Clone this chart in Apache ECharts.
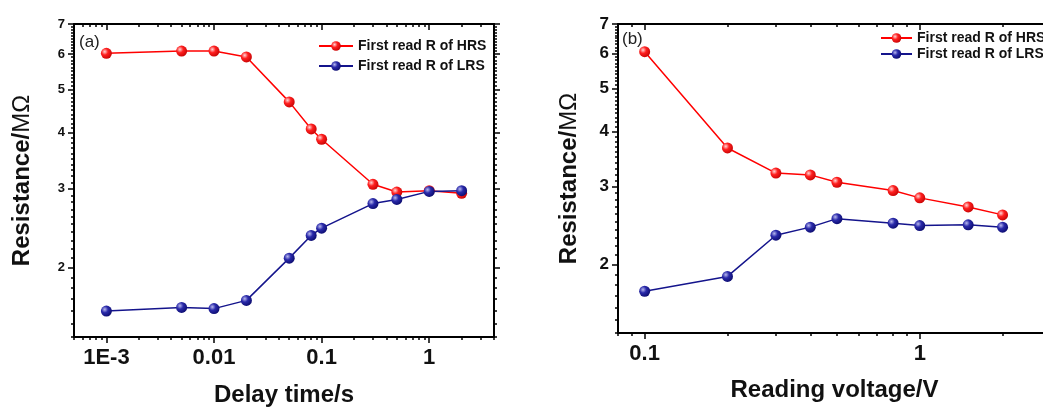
<!DOCTYPE html>
<html>
<head>
<meta charset="utf-8">
<script src="https://cdn.jsdelivr.net/npm/echarts@6/dist/echarts.min.js"></script>
<style>
    html, body { margin: 0; padding: 0; background: #fff; }
    #chart { width: 1043px; height: 407px; }
</style>
</head>
<body>
<div id="chart"></div>
<script>
// (a) first read resistance vs delay time
var delayTime = [0.001, 0.005, 0.01, 0.02, 0.05, 0.08, 0.1, 0.3, 0.5, 1, 2];
var delayHRS  = [6.02, 6.09, 6.09, 5.91, 4.69, 4.08, 3.87, 3.07, 2.95, 2.97, 2.93];
var delayLRS  = [1.60, 1.63, 1.62, 1.69, 2.10, 2.36, 2.45, 2.78, 2.84, 2.96, 2.97];

// (b) first read resistance vs reading voltage
var readVolt = [0.1, 0.2, 0.3, 0.4, 0.5, 0.8, 1, 1.5, 2];
var voltHRS  = [6.06, 3.67, 3.22, 3.19, 3.07, 2.94, 2.83, 2.70, 2.59];
var voltLRS  = [1.74, 1.88, 2.33, 2.43, 2.54, 2.48, 2.45, 2.46, 2.43];

// tick labels
var yTicks = [2, 3, 4, 5, 6, 7];
var delayTicks = [0.001, 0.01, 0.1, 1];
var delayTickLabels = ['1E-3', '0.01', '0.1', '1'];
var voltTicks = [0.1, 1];
var voltTickLabels = ['0.1', '1'];

var names = ['First read R of HRS', 'First read R of LRS'];
var FONT = '"Liberation Sans", Arial, sans-serif';

// minor tick positions (0.1 steps on y, 2..9 per decade on x)
var yMinor = [];
for (var k = 14; k < 70; k++) {
    if (k % 10 !== 0) yMinor.push(k / 10);
}
function decadeMinor(lo, hi) {
    var out = [];
    for (var d = -4; d <= 1; d++) {
        for (var m = 2; m <= 9; m++) {
            var v = parseFloat((m * Math.pow(10, d)).toPrecision(3));
            if (v >= lo && v <= hi) out.push(v);
        }
    }
    return out;
}

// one log axis, only ticks (optionally line / labels / name)
function logAxis(grid, pos, min, max, ticks, len, inside, opt) {
    opt = opt || {};
    return {
        type: 'log', gridIndex: grid, position: pos, min: min, max: max,
        axisLine: { show: !!opt.line, onZero: false, lineStyle: { color: '#000', width: 2 } },
        axisTick: { show: true, customValues: ticks, length: len, inside: inside,
                    lineStyle: { color: '#000', width: 1.5 } },
        axisLabel: opt.label || { show: false },
        minorTick: { show: false },
        splitLine: { show: false },
        name: opt.name || '',
        nameLocation: 'middle',
        nameGap: opt.nameGap || 0,
        nameTextStyle: opt.nameStyle || {}
    };
}

function xLabel(ticks, labels) {
    return {
        show: true, customValues: ticks, margin: 10,
        fontSize: 22, fontWeight: 'bold', fontFamily: FONT, color: '#111',
        formatter: function (v) {
            for (var i = 0; i < ticks.length; i++) {
                if (Math.abs(ticks[i] - v) < ticks[i] * 1e-6) return labels[i];
            }
            return '';
        }
    };
}
function yLabel(size) {
    return { show: true, customValues: yTicks, margin: 9,
             fontSize: size, fontWeight: 'bold', fontFamily: FONT, color: '#111' };
}
var xNameStyle = { fontSize: 24, fontWeight: 'bold', fontFamily: FONT, color: '#111' };
var yNameStyle = {
    color: '#111',
    rich: {
        b: { fontSize: 24, fontWeight: 'bold', fontFamily: FONT, color: '#111' },
        n: { fontSize: 24, fontWeight: 'normal', fontFamily: FONT, color: '#111' }
    }
};
var legendText = { fontSize: 14, fontWeight: 'bold', fontFamily: FONT, color: '#111' };

function ball(c0, c1, c2) {
    return {
        type: 'radial', x: 0.35, y: 0.35, r: 0.75,
        colorStops: [{ offset: 0, color: c0 }, { offset: 0.4, color: c1 }, { offset: 1, color: c2 }]
    };
}
var redBall = ball('#ffd6d6', '#ff2020', '#c00000');
var blueBall = ball('#b8b8ee', '#2a2aaa', '#080868');

function pairs(xs, ys) {
    return xs.map(function (x, i) { return [x, ys[i]]; });
}
function lineSeries(name, xi, data, lineColor, fill) {
    return {
        name: name, type: 'line', xAxisIndex: xi, yAxisIndex: xi, data: data,
        symbol: 'circle', symbolSize: 11,
        lineStyle: { color: lineColor, width: 1.5 },
        itemStyle: { color: fill, borderWidth: 0 },
        emphasis: { disabled: true }
    };
}

var yMin = 1.4, yMax = 7;
var dMin = 0.0005, dMax = 4;
var vMin = 0.08, vMax = 3;

var option = {
    animation: false,
    backgroundColor: '#fff',
    grid: [
        { left: 74, top: 24, width: 420, height: 313, outerBoundsMode: 'none', containLabel: false },
        { left: 618, top: 24, width: 433, height: 309, outerBoundsMode: 'none', containLabel: false }
    ],
    xAxis: [
        logAxis(0, 'bottom', dMin, dMax, delayTicks, 6, false,
            { line: true, label: xLabel(delayTicks, delayTickLabels),
              name: 'Delay time/s', nameGap: 46, nameStyle: xNameStyle }),
        logAxis(0, 'bottom', dMin, dMax, decadeMinor(dMin, dMax), 3, false),
        logAxis(0, 'top', dMin, dMax, delayTicks, 6, true, { line: true }),
        logAxis(0, 'top', dMin, dMax, decadeMinor(dMin, dMax), 3, true),

        logAxis(1, 'bottom', vMin, vMax, voltTicks, 6, false,
            { line: true, label: xLabel(voltTicks, voltTickLabels),
              name: 'Reading voltage/V', nameGap: 45, nameStyle: xNameStyle }),
        logAxis(1, 'bottom', vMin, vMax, decadeMinor(vMin, vMax), 3, false),
        logAxis(1, 'top', vMin, vMax, voltTicks, 6, true, { line: true }),
        logAxis(1, 'top', vMin, vMax, decadeMinor(vMin, vMax), 3, true)
    ],
    yAxis: [
        logAxis(0, 'left', yMin, yMax, yTicks, 6, false,
            { line: true, label: yLabel(13),
              name: '{b|Resistance/}{n|MΩ}', nameGap: 40, nameStyle: yNameStyle }),
        logAxis(0, 'left', yMin, yMax, yMinor, 3, false),
        logAxis(0, 'right', yMin, yMax, yTicks, 6, false, { line: true }),
        logAxis(0, 'right', yMin, yMax, yMinor, 3, false),

        logAxis(1, 'left', yMin, yMax, yTicks, 6, false,
            { line: true, label: yLabel(17),
              name: '{b|Resistance/}{n|MΩ}', nameGap: 37, nameStyle: yNameStyle }),
        logAxis(1, 'left', yMin, yMax, yMinor, 3, false),
        logAxis(1, 'right', yMin, yMax, yTicks, 6, false, { line: true }),
        logAxis(1, 'right', yMin, yMax, yMinor, 3, false)
    ],
    legend: [
        { data: names, orient: 'vertical', left: 313, top: 34, itemWidth: 34, itemHeight: 12,
          itemGap: 6, selectedMode: false, textStyle: legendText },
        { data: names, orient: 'vertical', left: 875, top: 26, itemWidth: 31, itemHeight: 12,
          itemGap: 2, selectedMode: false, textStyle: legendText }
    ],
    graphic: [
        { type: 'text', left: 79, top: 34, style: { text: '(a)', font: '17px ' + FONT, fill: '#222' } },
        { type: 'text', left: 622, top: 31, style: { text: '(b)', font: '17px ' + FONT, fill: '#222' } }
    ],
    series: [
        lineSeries(names[0], 0, pairs(delayTime, delayHRS), '#ff0000', redBall),
        lineSeries(names[1], 0, pairs(delayTime, delayLRS), '#14148c', blueBall),
        lineSeries(names[0], 4, pairs(readVolt, voltHRS), '#ff0000', redBall),
        lineSeries(names[1], 4, pairs(readVolt, voltLRS), '#14148c', blueBall)
    ]
};

var myChart = echarts.init(document.getElementById('chart'));
myChart.setOption(option);
</script>
</body>
</html>
